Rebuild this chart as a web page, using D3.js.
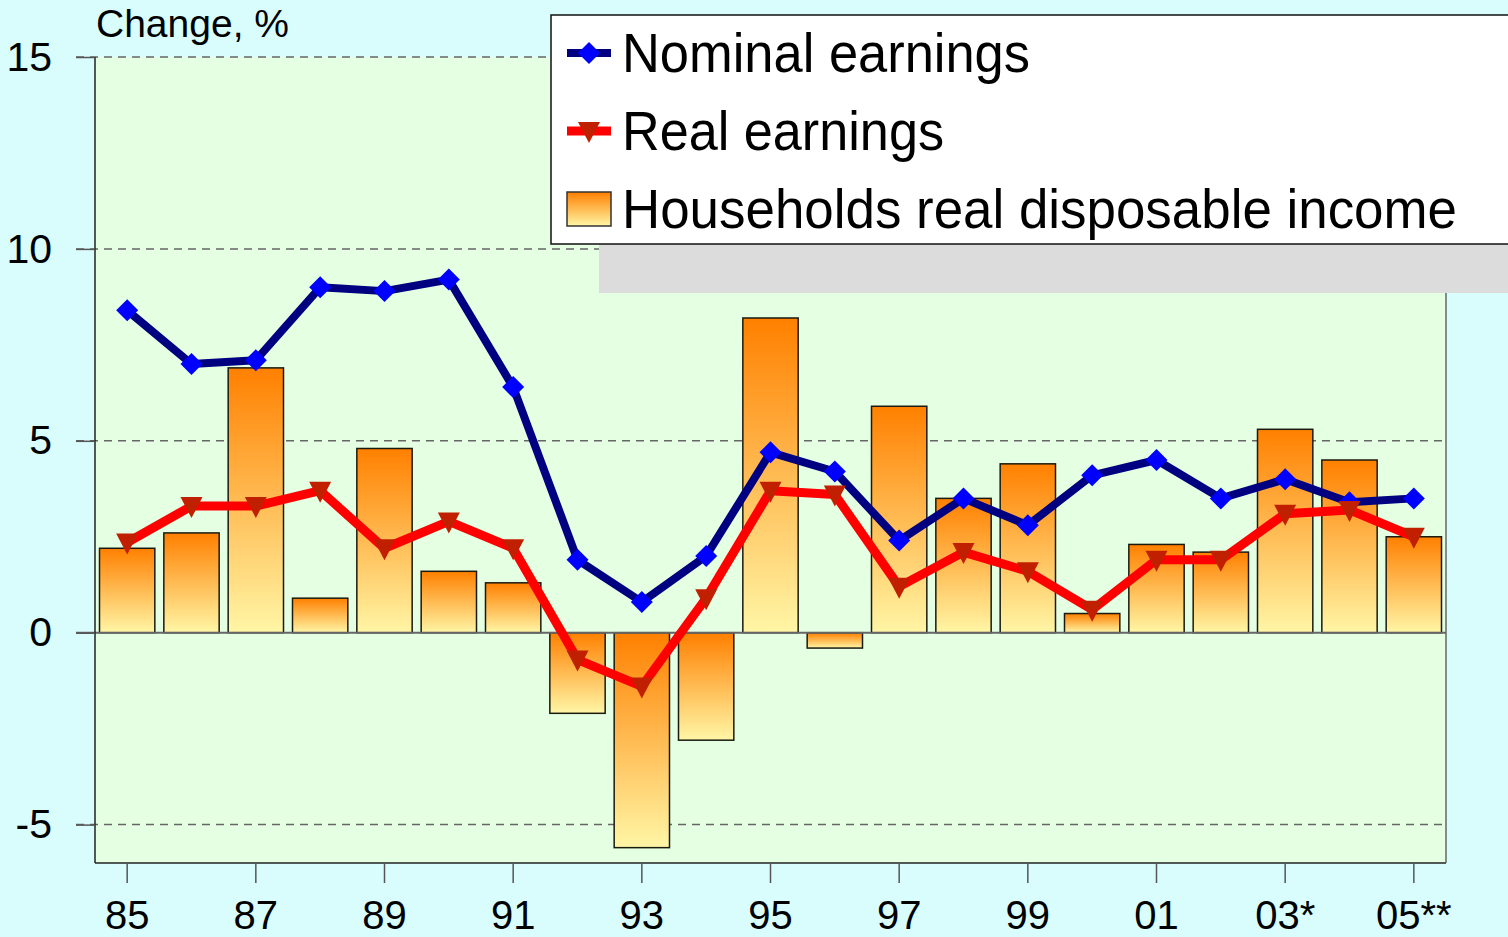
<!DOCTYPE html>
<html>
<head>
<meta charset="utf-8">
<script src="https://cdn.jsdelivr.net/npm/d3@7"></script>
<style>
  html, body { margin: 0; padding: 0; background: #d9fdfd; }
  svg { display: block; font-family: "Liberation Sans", Arial, sans-serif; }
</style>
</head>
<body>
<svg width="1508" height="937"></svg>
<script>
// chart data
var years = ["85","86","87","88","89","90","91","92","93","94","95","96","97","98","99","00","01","02","03*","04","05**"];
var nominal = [8.4, 7.0, 7.1, 9.0, 8.9, 9.2, 6.4, 1.9, 0.8, 2.0, 4.7, 4.2, 2.4, 3.5, 2.8, 4.1, 4.5, 3.5, 4.0, 3.4, 3.5];
var real = [2.35, 3.3, 3.3, 3.7, 2.2, 2.9, 2.2, -0.7, -1.4, 0.9, 3.7, 3.6, 1.2, 2.1, 1.6, 0.6, 1.9, 1.9, 3.1, 3.2, 2.5];
var income = [2.2, 2.6, 6.9, 0.9, 4.8, 1.6, 1.3, -2.1, -5.6, -2.8, 8.2, -0.4, 5.9, 3.5, 4.4, 0.5, 2.3, 2.1, 5.3, 4.5, 2.5];
var yTicks = [-5, 0, 5, 10, 15];
var seriesNames = ["Nominal earnings", "Real earnings", "Households real disposable income"];

var svg = d3.select("svg");
var plotL = 95, plotR = 1446, plotT = 57, plotB = 863;

var x = d3.scaleBand()
  .domain(years)
  .range([plotL, plotR])
  .paddingInner(0.14)
  .paddingOuter(0.07);

var y = d3.scaleLinear()
  .domain([-6, 15])
  .range([plotB, plotT]);

var cx = d => x(d) + x.bandwidth() / 2;

// gradient for bars
var defs = svg.append("defs");
var grad = defs.append("linearGradient")
  .attr("id", "barGrad")
  .attr("x1", 0).attr("y1", 0).attr("x2", 0).attr("y2", 1);
grad.append("stop").attr("offset", "0%").attr("stop-color", "#ff8000");
grad.append("stop").attr("offset", "100%").attr("stop-color", "#fff6a6");

// plot area
svg.append("rect")
  .attr("x", plotL)
  .attr("y", plotT)
  .attr("width", plotR - plotL)
  .attr("height", plotB - plotT)
  .attr("fill", "#e5ffe3");

// grid lines
svg.append("g")
  .selectAll("line")
  .data(yTicks.filter(d => d !== 0))
  .enter()
  .append("line")
    .attr("x1", 76)
    .attr("x2", plotR)
    .attr("y1", d => y(d))
    .attr("y2", d => y(d))
    .attr("stroke", "#666")
    .attr("stroke-width", 1.5)
    .attr("stroke-dasharray", "8,6");

// bars
svg.append("g")
  .selectAll("rect")
  .data(income)
  .enter()
  .append("rect")
    .attr("x", (d, i) => x(years[i]))
    .attr("y", d => y(Math.max(0, d)))
    .attr("width", x.bandwidth())
    .attr("height", d => Math.abs(y(d) - y(0)))
    .attr("fill", "url(#barGrad)")
    .attr("stroke", "#1a1a10")
    .attr("stroke-width", 1.5);

// zero line
svg.append("line")
  .attr("x1", 76)
  .attr("x2", plotR)
  .attr("y1", y(0))
  .attr("y2", y(0))
  .attr("stroke", "#666")
  .attr("stroke-width", 2);

// axes frame
svg.append("line")
  .attr("x1", plotL).attr("x2", plotL)
  .attr("y1", plotT).attr("y2", plotB)
  .attr("stroke", "#222").attr("stroke-width", 1.5);
svg.append("line")
  .attr("x1", plotL).attr("x2", plotR)
  .attr("y1", plotB).attr("y2", plotB)
  .attr("stroke", "#222").attr("stroke-width", 1.5);
svg.append("line")
  .attr("x1", plotR).attr("x2", plotR)
  .attr("y1", plotT).attr("y2", plotB)
  .attr("stroke", "#666").attr("stroke-width", 1.5);

// lines
var diamond = "M0,-11L11,0L0,11L-11,0Z";
var triangle = "M-11,-9L11,-9L0,12Z";

svg.append("path")
  .datum(nominal)
  .attr("fill", "none")
  .attr("stroke", "#000080")
  .attr("stroke-width", 8)
  .attr("stroke-linejoin", "round")
  .attr("d", d3.line().x((d, i) => cx(years[i])).y(d => y(d)));

svg.append("g")
  .selectAll("path")
  .data(nominal)
  .enter()
  .append("path")
    .attr("transform", (d, i) => `translate(${cx(years[i])},${y(d)})`)
    .attr("d", diamond)
    .attr("fill", "#0000ff");

svg.append("path")
  .datum(real)
  .attr("fill", "none")
  .attr("stroke", "#ff0000")
  .attr("stroke-width", 9)
  .attr("stroke-linejoin", "round")
  .attr("d", d3.line().x((d, i) => cx(years[i])).y(d => y(d)));

svg.append("g")
  .selectAll("path")
  .data(real)
  .enter()
  .append("path")
    .attr("transform", (d, i) => `translate(${cx(years[i])},${y(d)})`)
    .attr("d", triangle)
    .attr("fill", "#c02000");

// y axis ticks and labels
var yAxis = svg.append("g")
  .attr("transform", `translate(${plotL},0)`)
  .call(d3.axisLeft(y).tickValues(yTicks).tickSize(19).tickPadding(24).tickFormat(d => String(d)));
yAxis.attr("font-size", null).attr("font-family", null);
yAxis.select(".domain").remove();
yAxis.selectAll(".tick line").attr("stroke", "#555").attr("stroke-width", 1.5);
yAxis.selectAll("text")
  .style("font-size", "41px")
  .attr("fill", "#000");

// x axis ticks and labels
var xAxis = svg.append("g")
  .attr("transform", `translate(0,${plotB})`)
  .call(d3.axisBottom(x)
    .tickValues(years.filter((d, i) => i % 2 === 0))
    .tickSize(20)
    .tickPadding(18));
xAxis.attr("font-size", null).attr("font-family", null);
xAxis.select(".domain").remove();
xAxis.selectAll(".tick line").attr("stroke", "#555").attr("stroke-width", 1.5);
xAxis.selectAll("text")
  .style("font-size", "40px")
  .attr("fill", "#000");

// y title
svg.append("text")
  .attr("x", 96)
  .attr("y", 37)
  .attr("font-size", 38)
  .attr("textLength", 193)
  .attr("lengthAdjust", "spacingAndGlyphs")
  .text("Change, %");

// legend
svg.append("rect")
  .attr("x", 599).attr("y", 64)
  .attr("width", 960).attr("height", 229)
  .attr("fill", "#dcdcdc");
svg.append("rect")
  .attr("x", 551).attr("y", 15)
  .attr("width", 1000).attr("height", 229)
  .attr("fill", "#fff")
  .attr("stroke", "#111")
  .attr("stroke-width", 1.5);

var legendY = [53, 131, 209];
var legendW = [408, 322, 835];
var lg = svg.append("g");

lg.append("line")
  .attr("x1", 567).attr("x2", 611)
  .attr("y1", legendY[0]).attr("y2", legendY[0])
  .attr("stroke", "#000080").attr("stroke-width", 8);
lg.append("path")
  .attr("transform", `translate(589,${legendY[0]})`)
  .attr("d", diamond)
  .attr("fill", "#0000ff");

lg.append("line")
  .attr("x1", 567).attr("x2", 611)
  .attr("y1", legendY[1]).attr("y2", legendY[1])
  .attr("stroke", "#ff0000").attr("stroke-width", 9);
lg.append("path")
  .attr("transform", `translate(589,${legendY[1]})`)
  .attr("d", triangle)
  .attr("fill", "#c02000");

lg.append("rect")
  .attr("x", 567).attr("y", legendY[2] - 17)
  .attr("width", 44).attr("height", 34)
  .attr("fill", "url(#barGrad)")
  .attr("stroke", "#333")
  .attr("stroke-width", 1.5);

lg.selectAll("text")
  .data(seriesNames)
  .enter()
  .append("text")
    .attr("x", 622)
    .attr("y", (d, i) => legendY[i] + 19)
    .attr("font-size", 56)
    .attr("textLength", (d, i) => legendW[i])
    .attr("lengthAdjust", "spacingAndGlyphs")
    .text(d => d);
</script>
</body>
</html>
